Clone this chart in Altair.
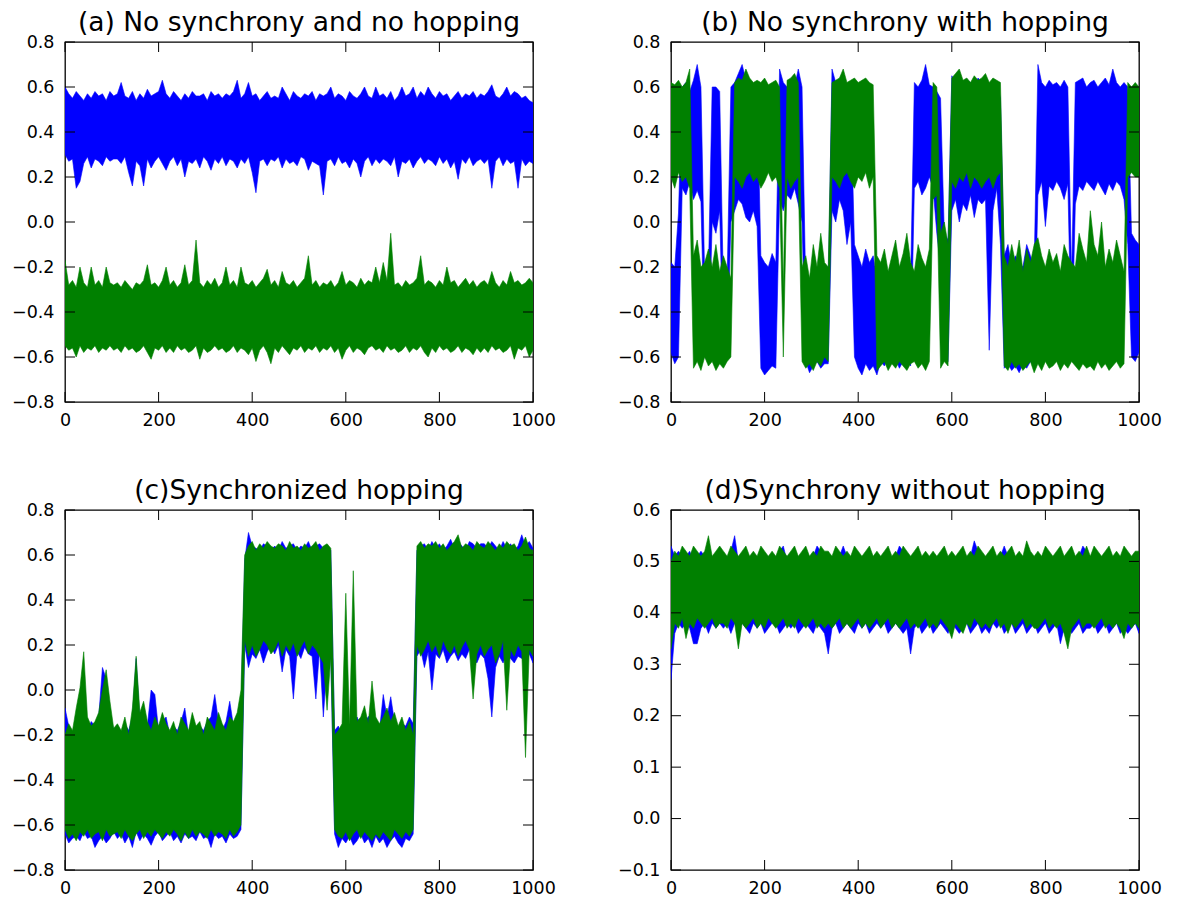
import altair as alt
import pandas as pd

# Samples are stored in hundredths; one value every STEP time units (0..1000).
STEP = 8

# (a) No synchrony and no hopping
A_BLUE_HI = [60,57,55,58,56,54,57,55,58,56,57,54,58,56,
             57,62,56,55,58,54,57,55,59,56,57,58,63,57,
             55,58,56,54,57,55,58,56,56,57,54,58,56,57,
             55,57,56,58,63,55,57,62,56,57,54,56,58,55,
             56,55,60,57,54,58,56,55,57,56,58,54,57,56,
             57,60,55,57,56,54,58,56,55,57,60,56,55,60,
             56,57,55,58,54,56,60,56,57,60,55,58,56,60,
             57,55,58,56,57,54,56,58,55,57,56,58,55,57,
             56,58,61,56,55,57,60,56,58,57,55,56,54,53]
A_BLUE_LO = [30,27,28,15,18,26,29,24,28,27,25,29,27,28,
             28,26,29,22,16,27,25,16,28,24,27,29,26,23,
             27,29,25,28,20,27,26,28,24,29,27,23,28,26,
             29,25,28,27,24,28,26,29,22,13,27,28,25,28,
             27,29,24,28,26,27,25,29,28,23,27,26,25,12,
             27,28,25,29,26,27,24,28,26,20,27,29,25,28,
             26,28,27,25,29,20,27,26,28,24,27,29,26,28,
             27,25,29,26,28,24,27,19,28,26,29,25,27,28,
             26,28,15,27,29,25,28,26,27,15,28,25,27,26]
A_GREEN_HI = [-17,-28,-26,-29,-20,-27,-29,-20,-28,-26,-29,-20,-27,-28,
              -27,-29,-26,-28,-30,-27,-28,-26,-19,-28,-27,-29,-26,-20,
              -28,-26,-29,-27,-19,-28,-26,-8,-27,-29,-26,-28,-25,-29,
              -27,-20,-28,-26,-29,-20,-27,-28,-26,-29,-27,-25,-21,-28,
              -26,-29,-22,-27,-28,-26,-29,-27,-25,-15,-28,-26,-29,-27,
              -28,-26,-29,-27,-22,-28,-26,-27,-29,-25,-28,-26,-27,-20,
              -27,-18,-26,-5,-28,-27,-29,-26,-28,-27,-25,-15,-28,-26,
              -27,-29,-26,-28,-20,-27,-26,-29,-27,-25,-28,-26,-29,-27,
              -26,-28,-22,-27,-29,-26,-28,-22,-27,-26,-28,-27,-25,-27]
A_GREEN_LO = [-55,-57,-56,-60,-55,-58,-56,-57,-55,-58,-56,-57,-55,-57,
              -56,-58,-55,-57,-56,-58,-57,-55,-58,-61,-56,-57,-55,-58,
              -56,-58,-55,-57,-56,-58,-57,-55,-61,-56,-58,-57,-55,-57,
              -56,-58,-57,-55,-58,-56,-57,-59,-56,-62,-57,-55,-58,-63,
              -56,-58,-55,-57,-59,-56,-57,-55,-58,-56,-57,-55,-58,-56,
              -57,-55,-58,-56,-61,-57,-55,-58,-56,-57,-59,-56,-55,-57,
              -56,-58,-55,-57,-56,-58,-57,-55,-58,-56,-57,-55,-58,-60,
              -56,-58,-55,-57,-56,-58,-57,-55,-58,-56,-57,-59,-56,-58,
              -56,-58,-55,-57,-56,-58,-57,-55,-61,-56,-57,-55,-60,-57]

# (b) No synchrony with hopping
B_BLUE_HI = [-18,-20,4,60,62,58,63,70,60,-25,-22,60,60,58,
             -30,-25,60,62,66,70,63,62,60,61,-15,-18,-20,-14,
             -18,68,62,60,62,60,68,60,-30,-28,-30,-28,-30,-28,
             -30,68,62,60,60,58,55,-10,-15,-20,-12,-18,-15,-25,
             -25,-28,-22,-26,-24,-27,-25,-23,-26,62,60,63,70,61,
             60,58,55,-5,-8,65,62,64,60,63,62,60,64,62,
             62,60,63,62,55,-15,-10,-20,-15,-18,-20,-10,-15,-20,
             70,62,60,63,61,62,60,63,60,-25,62,63,64,60,
             62,63,60,62,64,61,68,62,60,62,60,-5,-8,-10]
B_BLUE_LO = [-58,-63,-60,15,12,18,10,14,9,-60,-62,0,-5,5,
             -62,-60,0,5,10,8,2,0,5,-2,-65,-68,-66,-64,
             -65,10,5,12,10,15,8,0,-62,-67,-64,-62,-65,-63,
             -63,5,0,10,5,-10,0,-60,-65,-68,-63,-66,-64,-68,
             -62,-64,-60,-63,-61,-65,-62,-60,-64,15,18,12,15,20,
             15,-5,-20,-60,-62,5,10,0,8,5,12,2,10,8,
             10,-57,5,15,-10,-65,-63,-66,-64,-67,-63,-65,-62,-64,
             12,18,-2,16,14,18,15,10,17,-60,8,16,14,18,
             16,14,18,15,12,17,14,18,16,10,-10,-60,-62,-58]
B_GREEN_HI = [62,61,63,60,62,68,-15,-8,-20,-18,-12,-20,-10,-22,
              -15,-20,-25,62,64,63,68,64,62,63,62,64,61,62,
              63,60,-30,63,64,66,62,-20,-15,-25,-10,-20,-5,-18,
              -20,62,63,64,68,62,63,64,62,63,64,62,61,-15,
              -18,-12,-22,-15,-8,-20,-14,-5,-18,-22,-10,-16,-20,-12,
              62,60,-5,0,-10,64,66,68,63,64,62,65,63,64,
              66,62,64,63,62,-15,-20,-10,-18,-8,-22,-12,-18,-10,
              -7,-15,-20,-12,-18,-14,-22,-10,-15,-18,-20,-5,-12,-18,
              5,-10,-15,0,-20,-12,-18,-8,-15,-22,62,60,62,60]
B_GREEN_LO = [20,15,22,18,20,15,-65,-62,-66,-60,-64,-62,-66,-63,
              -65,-62,-60,20,18,15,20,22,18,20,15,18,22,18,
              20,15,-60,20,15,18,20,-62,-65,-63,-66,-62,-64,-60,
              -62,20,18,15,20,22,18,15,20,18,22,15,20,-66,
              -64,-62,-66,-63,-65,-62,-64,-66,-63,-62,-65,-63,-66,-62,
              10,12,-65,-62,-64,18,15,20,18,22,15,20,18,15,
              18,20,15,20,22,-64,-66,-62,-65,-63,-66,-64,-62,-67,
              -63,-66,-62,-65,-64,-62,-66,-63,-65,-62,-64,-66,-63,-65,
              -64,-66,-62,-65,-63,-66,-64,-62,-65,-63,20,22,20,20]

# (c) Synchronized hopping
C_BLUE_HI = [-8,-16,-20,-12,-10,8,-18,-14,-16,-12,10,5,-10,-18,
             -18,-20,-15,-18,-12,14,-14,-10,-16,0,-2,-18,-14,-12,
             -20,-16,-18,-14,-8,-20,-12,-18,-16,-18,-14,-12,-2,-14,
             -18,-14,-5,-16,-14,-10,58,70,64,63,62,65,64,62,
             64,62,66,63,64,65,62,64,63,66,62,64,65,63,
             64,62,-18,-16,-20,-18,-15,-18,-12,-16,-14,-12,-10,-14,
             -18,-2,-12,-3,-14,-18,-15,-16,-12,-15,62,64,65,62,
             66,63,65,62,64,67,63,66,64,62,66,65,63,65,
             65,63,66,64,62,66,63,65,62,64,69,64,66,63]
C_BLUE_LO = [-64,-68,-66,-65,-67,-63,-66,-65,-70,-67,-65,-68,-66,-63,
             -66,-64,-68,-65,-70,-63,-67,-64,-66,-69,-65,-63,-67,-65,
             -63,-67,-65,-68,-64,-66,-65,-67,-63,-66,-65,-70,-64,-66,
             -65,-68,-64,-66,-65,-62,20,10,16,14,18,12,17,20,
             16,20,8,18,15,-4,17,14,19,16,15,-4,18,-12,
             12,14,-64,-70,-66,-68,-65,-69,-67,-64,-68,-66,-70,-65,
             -68,-66,-70,-67,-65,-68,-70,-66,-67,-64,15,18,10,17,
             0,16,14,18,12,15,17,13,16,14,18,15,12,16,
             14,5,-12,10,15,12,16,14,12,15,14,13,16,12]
C_GREEN_HI = [-20,-15,-18,-8,1,17,-12,-16,-14,-10,0,9,-5,-17,
              -15,-18,-12,-20,-8,15,-10,-5,-14,-18,-12,-16,-10,-15,
              -18,-14,-20,-12,-15,-18,-10,-16,-14,-20,-12,-15,-18,-10,
              -15,-18,-12,-14,-10,0,60,64,66,62,65,63,66,64,
              63,65,64,62,66,63,64,62,65,63,64,66,62,64,
              65,63,-20,-18,-15,43,-16,53,-14,-12,-7,-15,4,-12,
              -15,-12,-8,-14,-10,-16,-12,-18,-14,-20,64,66,63,65,
              64,66,63,65,62,64,66,69,63,65,64,62,66,64,
              63,66,64,62,65,63,66,64,65,62,64,68,63,62]
C_GREEN_LO = [-62,-66,-64,-67,-63,-65,-62,-66,-64,-63,-67,-62,-65,-64,
              -63,-66,-62,-65,-67,-64,-62,-66,-63,-65,-62,-64,-66,-63,
              -65,-62,-64,-67,-63,-66,-62,-65,-63,-64,-66,-62,-65,-63,
              -64,-66,-62,-65,-63,-60,22,15,20,15,18,22,20,16,
              18,22,15,20,17,21,15,19,22,16,20,18,15,12,
              -9,15,-62,-65,-66,-63,-67,-64,-62,-66,-63,-65,-67,-64,
              -66,-63,-65,-67,-62,-64,-66,-63,-65,-62,20,15,18,22,
              17,20,15,22,18,16,20,15,19,22,18,-4,16,20,
              15,18,20,12,16,22,-9,18,15,20,17,-30,18,15]

# (d) Synchrony without hopping
D_BLUE_HI = [53,51,52,51,51,52,50,51,52,51,52,50,51,52,
             51,50,52,55,50,51,52,50,51,50,52,51,50,51,
             50,52,53,50,51,52,50,51,52,50,51,53,52,51,
             51,50,52,51,53,51,50,52,51,50,51,52,50,51,
             50,51,52,50,51,53,52,51,50,51,52,50,51,50,
             51,50,51,52,50,51,50,51,52,50,51,54,52,51,
             50,51,52,50,51,53,51,52,50,51,50,52,51,50,
             51,50,52,51,50,51,52,50,51,52,50,51,53,52,
             50,52,51,50,51,52,50,51,50,52,51,50,51,51]
D_BLUE_LO = [27,36,38,37,38,37,34,34,37,38,36,38,37,38,
             37,38,36,38,37,38,37,36,38,37,38,36,37,38,
             38,36,37,38,37,38,36,37,38,37,36,38,37,36,
             32,37,38,36,37,38,37,36,38,37,38,36,37,38,
             37,38,36,37,38,37,36,37,32,37,38,36,37,38,
             36,37,38,37,36,38,37,36,37,38,36,37,38,36,
             37,36,38,37,38,36,37,38,36,37,38,36,37,38,
             36,37,38,36,37,38,34,37,38,36,37,38,36,37,
             37,38,36,37,38,36,37,38,36,37,36,37,38,36]
D_GREEN_HI = [50,52,51,53,52,51,53,52,51,52,55,51,52,53,
              52,51,53,52,51,52,53,51,52,51,53,52,51,52,
              51,53,52,51,52,53,51,52,53,51,52,51,53,52,
              52,51,53,52,51,52,51,53,52,51,52,53,51,52,
              51,52,53,51,52,51,53,52,51,52,53,51,52,51,
              52,51,52,53,51,52,51,52,53,51,52,51,53,52,
              51,52,53,51,52,51,52,53,51,52,51,54,52,51,
              52,51,53,52,51,52,53,51,52,53,51,52,51,53,
              51,53,52,51,52,53,51,52,51,53,52,51,52,52]
D_GREEN_LO = [33,38,37,39,35,38,37,39,38,37,38,39,37,38,
              38,37,39,38,33,38,37,38,39,37,38,37,39,38,
              37,38,39,37,38,37,39,38,37,38,39,37,38,37,
              38,37,38,39,37,38,37,38,39,37,38,37,38,39,
              37,38,39,37,38,37,38,39,37,38,37,38,39,37,
              38,37,39,38,37,35,38,37,36,38,37,39,38,37,
              38,37,38,39,37,38,36,38,37,38,39,37,38,37,
              37,38,39,37,38,37,38,36,33,37,38,39,37,38,
              38,37,38,39,37,38,37,38,37,35,38,37,38,37]

X_TICKS = [0, 200, 400, 600, 800, 1000]
Y_TICKS_WIDE = [-0.8, -0.6, -0.4, -0.2, 0.0, 0.2, 0.4, 0.6, 0.8]
Y_TICKS_D = [-0.1, 0.0, 0.1, 0.2, 0.3, 0.4, 0.5, 0.6]

BLUE = "#0000ff"
GREEN = "#008000"
FONT = "DejaVu Sans"
W, H = 468, 360
TICK_LEN = 10


def band_frame(hi, lo):
    return pd.DataFrame({
        "t": [i * STEP for i in range(len(hi))],
        "hi": [v / 100 for v in hi],
        "lo": [v / 100 for v in lo],
    })


def panel(title, blue, green, ydomain, yticks):
    xs = alt.Scale(domain=[0, 1000], nice=False, zero=False)
    ys = alt.Scale(domain=ydomain, nice=False, zero=False)
    label_style = dict(ticks=False, domain=False, grid=False,
                       labelFont=FONT, labelFontSize=17.5, labelColor="black")
    xaxis = alt.Axis(values=X_TICKS, format="d", labelFlush=False,
                     labelPadding=9, **label_style)
    yaxis = alt.Axis(values=yticks, format=".1f", labelPadding=11, **label_style)

    def xenc(field):
        return alt.X(field, scale=xs, axis=xaxis, title=None)

    def yenc(field):
        return alt.Y(field, scale=ys, axis=yaxis, title=None)

    blue_band = alt.Chart(band_frame(*blue)).mark_area(
        color=BLUE, stroke=BLUE, strokeWidth=0.6, strokeJoin="round", clip=True
    ).encode(x=xenc("t:Q"), y=yenc("hi:Q"), y2="lo:Q")
    green_band = alt.Chart(band_frame(*green)).mark_area(
        color=GREEN, stroke=GREEN, strokeWidth=0.6, strokeJoin="round", clip=True
    ).encode(x=xenc("t:Q"), y=yenc("hi:Q"), y2="lo:Q")

    xt = pd.DataFrame({"v": X_TICKS})
    yt = pd.DataFrame({"v": yticks})
    tick = dict(color="black", strokeWidth=1)
    x_bottom = alt.Chart(xt).mark_rule(**tick).encode(
        x=xenc("v:Q"), y=alt.value(H), y2=alt.value(H - TICK_LEN))
    x_top = alt.Chart(xt).mark_rule(**tick).encode(
        x=xenc("v:Q"), y=alt.value(0), y2=alt.value(TICK_LEN))
    y_left = alt.Chart(yt).mark_rule(**tick).encode(
        y=yenc("v:Q"), x=alt.value(0), x2=alt.value(TICK_LEN))
    y_right = alt.Chart(yt).mark_rule(**tick).encode(
        y=yenc("v:Q"), x=alt.value(W), x2=alt.value(W - TICK_LEN))

    return alt.layer(blue_band, green_band, x_bottom, x_top, y_left, y_right).properties(
        width=W, height=H,
        title=alt.TitleParams(title, font=FONT, fontSize=26.5, fontWeight="normal",
                              color="black", baseline="alphabetic", offset=-24,
                              anchor="middle"),
    )


pa = panel("(a) No synchrony and no hopping", (A_BLUE_HI, A_BLUE_LO),
           (A_GREEN_HI, A_GREEN_LO), [-0.8, 0.8], Y_TICKS_WIDE)
pb = panel("(b) No synchrony with hopping", (B_BLUE_HI, B_BLUE_LO),
           (B_GREEN_HI, B_GREEN_LO), [-0.8, 0.8], Y_TICKS_WIDE)
pc = panel("(c)Synchronized hopping", (C_BLUE_HI, C_BLUE_LO),
           (C_GREEN_HI, C_GREEN_LO), [-0.8, 0.8], Y_TICKS_WIDE)
pd_ = panel("(d)Synchrony without hopping", (D_BLUE_HI, D_BLUE_LO),
            (D_GREEN_HI, D_GREEN_LO), [-0.1, 0.6], Y_TICKS_D)

chart = alt.vconcat(
    alt.hconcat(pa, pb, spacing=60),
    alt.hconcat(pc, pd_, spacing=60),
    spacing=46,
).properties(
    padding={"left": 10, "top": 8, "right": 5, "bottom": 5},
    background="white",
).configure_view(stroke="black", strokeWidth=1.3)

chart.save("out.html", embed_options={"renderer": "svg", "actions": False})
